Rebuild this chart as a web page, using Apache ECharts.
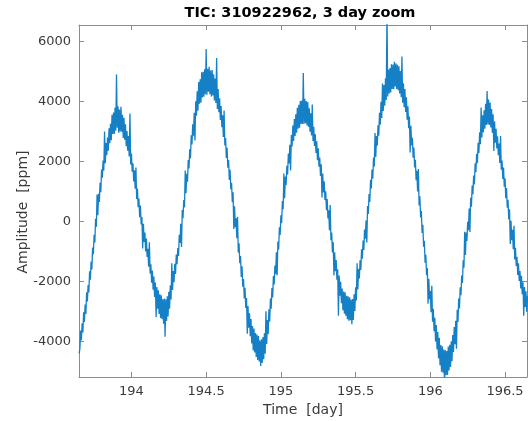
<!DOCTYPE html>
<html>
<head>
<meta charset="utf-8">
<script src="https://cdn.jsdelivr.net/npm/echarts@6.0.0/dist/echarts.min.js"></script>
<style>
html,body{margin:0;padding:0;background:#fff;}
#chart{width:528px;height:421px;}
</style>
</head>
<body>
<div id="chart"></div>
<script>
// ---- data ----
const titleText = 'TIC: 310922962, 3 day zoom';
const xAxisTitle = 'Time  [day]';
const yAxisTitle = 'Amplitude  [ppm]';
const xTicks = [194, 194.5, 195, 195.5, 196, 196.5];
const yTicks = [-4000, -2000, 0, 2000, 4000, 6000];
const xRange = [193.649, 196.647];
const yRange = [-5190, 6550];
// samples start at t0 with a fixed cadence (days)
const t0 = 193.65;
const cadence = 0.005;
const amplitude = [
  -4400, -4233, -3636, -3963, -3400, -3707, -3033, -3352, -2771, -3088,
  -2365, -2673, -2120, -2371, -1661, -1942, -1342, -1601, -870, -1094,
  -448, -700, 88, -182, 900, 209, 920, 650, 1290, 971,
  1732, 1453, 2034, 1694, 3000, 1942, 2611, 2211, 2801, 2354,
  3106, 2606, 3255, 2706, 3556, 2919, 3632, 2912, 3791, 3021,
  4900, 3120, 3839, 2960, 3730, 3000, 3820, 2990, 3560, 2785,
  3459, 2724, 3239, 2504, 3018, 2359, 2850, 2166, 3600, 1897,
  2262, 1656, 1940, 1331, 1702, 1093, 1800, 744, 1094, 475,
  766, 137, 528, -102, 148, -900, -83, -683, -372, -1003,
  -573, -1183, -913, -1508, -700, -1736, -1430, -2045, -1640, -2279,
  -1837, -2517, -2037, -3200, -2188, -2916, -2294, -3087, -2430, -3224,
  -2467, -3259, -2601, -3414, -2576, -3850, -2595, -3321, -2496, -3171,
  -2345, -2915, -2134, -2603, -1400, -2290, -1657, -2032, -1416, -1750,
  -1103, -1428, -892, -1154, -446, -718, -79, -850, 380, 108,
  715, 468, 1700, 936, 1590, 1319, 2048, 1768, 2407, 2108,
  2869, 2569, 3239, 2856, 3623, 2700, 4004, 3521, 4337, 3695,
  4652, 3921, 4739, 3958, 4977, 4133, 4988, 4155, 5071, 4238,
  5750, 4221, 5087, 4324, 5161, 4245, 5028, 4162, 5045, 4200,
  4905, 4036, 4767, 3948, 5450, 3749, 4418, 3639, 4109, 3379,
  3848, 3138, 3538, 2812, 3700, 2529, 2783, 2118, 2453, 1790,
  2046, 1383, 1719, 1075, 1290, 642, 974, -250, 505, -191,
  113, -562, 150, -1038, -729, -1398, -1156, -1856, -1495, -2178,
  -1921, -2567, -2212, -2889, -2555, -3750, -2826, -3545, -3064, -3834,
  -3254, -4073, -3492, -4309, -3575, -4374, -3723, -4523, -3772, -4622,
  -3821, -4671, -3970, -4825, -3930, -4719, -3857, -4596, -3735, -4410,
  -3000, -4085, -3286, -3759, -2931, -3342, -2573, -2912, -2221, -2539,
  -1826, -2108, -1470, -1751, -1031, -1800, -674, -935, -196, -456,
  205, -56, 683, 409, 1600, 775, 1495, 1216, 1857, 1561,
  2264, 1933, 2552, 1700, 2880, 2500, 3200, 2683, 3416, 2846,
  3576, 2957, 3788, 3090, 3892, 3127, 4011, 3245, 4028, 3250,
  4950, 3257, 4092, 3277, 4012, 3197, 3982, 3153, 3774, 2989,
  3604, 2869, 3900, 2681, 3159, 2515, 2910, 2285, 2669, 2040,
  2441, 1827, 2132, 1518, 1904, 800, 1594, 967, 1340, 711,
  1002, 372, 742, 95, 367, -298, 550, -629, -375, -1034,
  -692, -1800, -1030, -1660, -1290, -1949, -1598, -3150, -1807, -2481,
  -2014, -2728, -2241, -2967, -2343, -3077, -2361, -3146, -2480, -3262,
  -2494, -3311, -2527, -3294, -2610, -3427, -2593, -3287, -2430, -2988,
  -2195, -2636, -1400, -2273, -1589, -1905, -1301, -1616, -930, -1245,
  -639, -954, -268, -578, 33, -700, 511, 250, 909, 649,
  1389, 1099, 1729, 1428, 2127, 1827, 2950, 2148, 2848, 2521,
  3204, 2858, 3621, 3224, 3986, 3451, 4600, 3680, 4545, 3861,
  4777, 4047, 7000, 4166, 5065, 4264, 5113, 4303, 5243, 4414,
  5235, 4406, 5327, 4498, 5269, 4420, 5221, 4371, 5170, 4269,
  5018, 4138, 5500, 3958, 4609, 3811, 4412, 3650, 4137, 3387,
  3836, 3105, 3494, 2300, 3192, 2531, 2790, 2127, 2463, 1799,
  2055, 1374, 1692, 998, 1750, 529, 834, 130, 346, -383,
  -112, -841, -650, -1381, -1111, -1795, -1558, -2750, -1915, -2595,
  -2324, -3026, -2150, -3347, -2916, -3665, -3214, -4009, -3453, -4273,
  -3692, -4561, -3880, -4800, -4120, -5016, -4162, -5044, -4275, -5400,
  -4288, -5130, -4321, -5121, -4170, -4969, -4118, -4858, -3997, -4667,
  -3786, -4357, -3527, -4097, -3317, -4250, -2949, -3351, -2572, -2904,
  -2196, -2463, -1809, -2054, -1299, -1545, -350, -1120, -368, -650,
  -12, -293, 427, -350, 786, 493, 1200, 905, 1530, 1235,
  1940, 1638, 2255, 1939, 2623, 2278, 2973, 2575, 3800, 2801,
  3536, 2971, 3706, 3090, 3924, 3219, 4350, 3239, 4064, 3215,
  3965, 3130, 3744, 2959, 3574, 2350, 3335, 2621, 3086, 2431,
  2835, 2210, 2595, 1951, 2850, 1722, 2027, 1413, 1799, 1157,
  1434, 774, 1114, 456, 717, 61, 404, -750, 22, -628,
  -278, -929, -150, -1270, -881, -1489, -1177, -1785, -1393, -1985,
  -1657, -2237, -1817, -2427, -2027, -3150, -2188, -2851, -2334, -3017,
  -2500
];

// ---- chart ----
const seriesData = amplitude.map((v, i) => [+(t0 + i * cadence).toFixed(4), v]);
const FONT = 'DejaVu Sans';
const axisGrey = '#8c8c8c';
const textGrey = '#3a3a3a';
const plain = v => String(v);

function xAx(pos, showLabel) {
  return {
    type: 'value', position: pos, min: xRange[0], max: xRange[1],
    axisLine: {show: true, onZero: false, lineStyle: {color: axisGrey, width: 1}},
    axisTick: {show: true, inside: true, length: 5, customValues: xTicks, lineStyle: {color: axisGrey}},
    axisLabel: {show: showLabel, customValues: xTicks, formatter: plain, margin: 8, color: textGrey, fontFamily: FONT, fontSize: 13},
    splitLine: {show: false}
  };
}
function yAx(pos, showLabel) {
  return {
    type: 'value', position: pos, min: yRange[0], max: yRange[1],
    axisLine: {show: true, onZero: false, lineStyle: {color: axisGrey, width: 1}},
    axisTick: {show: true, inside: true, length: 5, customValues: yTicks, lineStyle: {color: axisGrey}},
    axisLabel: {show: showLabel, customValues: yTicks, formatter: plain, margin: 8, color: textGrey, fontFamily: FONT, fontSize: 13},
    splitLine: {show: false}
  };
}

const chart = echarts.init(document.getElementById('chart'), null, {renderer: 'canvas'});
chart.setOption({
  animation: false,
  backgroundColor: '#ffffff',
  grid: {left: 79, right: 1, top: 25, bottom: 44, containLabel: false},
  xAxis: [xAx('bottom', true), xAx('top', false)],
  yAxis: [yAx('left', true), yAx('right', false)],
  series: [{
    type: 'line', xAxisIndex: 0, yAxisIndex: 0,
    data: seriesData, showSymbol: false, symbol: 'none', clip: true,
    lineStyle: {color: '#1580c6', width: 1.3}
  }],
  graphic: [
    {type: 'text', x: 300, y: 13, style: {text: titleText, fill: '#000', font: 'bold 14.5px "DejaVu Sans"', textAlign: 'center', textVerticalAlign: 'middle'}},
    {type: 'text', x: 303, y: 410, style: {text: xAxisTitle, fill: textGrey, font: '14px "DejaVu Sans"', textAlign: 'center', textVerticalAlign: 'middle'}},
    {type: 'text', x: 23, y: 212, rotation: Math.PI / 2, style: {text: yAxisTitle, fill: textGrey, font: '14px "DejaVu Sans"', textAlign: 'center', textVerticalAlign: 'middle'}}
  ]
});
</script>
</body>
</html>
